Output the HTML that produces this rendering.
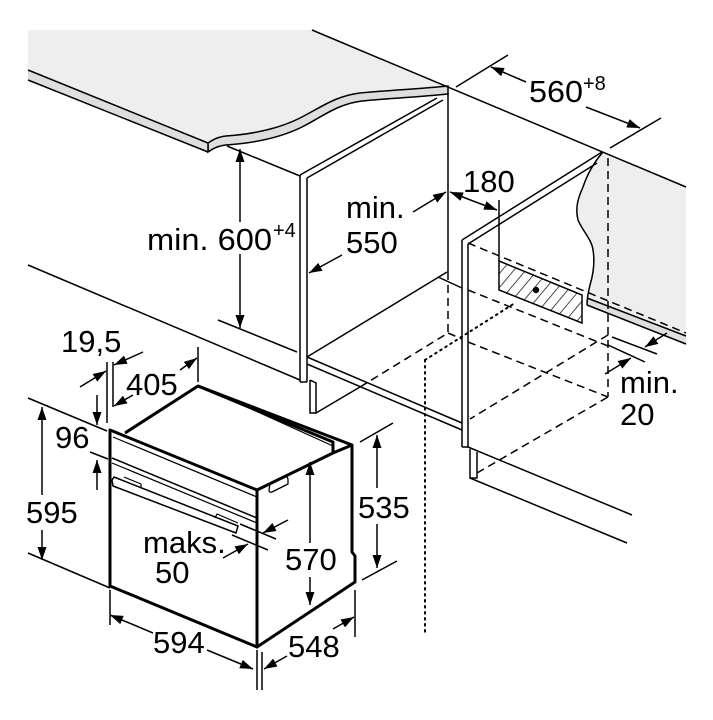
<!DOCTYPE html>
<html><head><meta charset="utf-8"><style>
html,body{margin:0;padding:0;background:#fff;}
svg{display:block;}
text{font-family:"Liberation Sans",Arial,sans-serif;fill:#000;}
</style></head><body>
<svg xmlns="http://www.w3.org/2000/svg" width="713" height="720" viewBox="0 0 713 720">
<defs>
<marker id="a" markerWidth="14" markerHeight="10" refX="13" refY="4.5" orient="auto" markerUnits="userSpaceOnUse"><path d="M0,0 L13,4.5 L0,9 z" fill="#000"/></marker>
<pattern id="h" width="9" height="9" patternUnits="userSpaceOnUse" patternTransform="rotate(40)"><rect width="9" height="9" fill="#fff"/><line x1="0" y1="0" x2="0" y2="9" stroke="#000" stroke-width="1.4"/></pattern>
</defs>

<!-- counter -->
<path d="M28,30 L312,30 L448,88 L448,86 C420,89 390,90 360,93 C335,96 320,108 300,118 C280,128 255,134 226,136 C218,137 214,139 208,143 L28,70 Z" fill="#eeeeee"/>
<path d="M208,143 C214,139 218,137 226,136 C255,134 280,128 300,118 C320,108 335,96 360,93 C390,90 420,89 448,86 L448,94 C420,97 392,98 362,101 C337,104 322,117 302,127 C282,137 255,143 226,145 C218,146 214,148 208,152 Z" fill="#dedede" stroke="#000" stroke-width="1.5"/>
<path d="M28,70 L208,143 L208,152 L28,80 Z" fill="#dedede"/>
<g stroke="#000" stroke-width="1.5" fill="none">
<line x1="28" y1="70" x2="208" y2="143"/>
<line x1="28" y1="80" x2="208" y2="152"/>
<line x1="208" y1="143" x2="208" y2="152"/>
</g>

<!-- wall gray right -->
<path d="M603,152 L686,187 L686,336 L587,298 C588,293 590,288 590,285 C593,275 595,262 593,250 C592,240 582,230 578,220 C575,208 578,198 583,187 C588,172 596,160 603,152 Z" fill="#eeeeee"/>
<path d="M587,298 L686,336 L686,344 L587,305 Z" fill="#dedede"/>

<g stroke="#000" stroke-width="1.5" fill="none">
<!-- back top line -->
<line x1="312" y1="30" x2="686" y2="187"/>
<!-- wavy cut -->
<path d="M603,152 C596,160 588,172 583,187 C578,198 575,208 578,220 C582,230 592,240 593,250 C595,262 593,275 590,285 C588,293 587,298 587,305"/>
<line x1="587" y1="298" x2="686" y2="336"/>
<line x1="587" y1="305" x2="686" y2="344"/>

<!-- left cabinet -->
<line x1="227" y1="146" x2="300" y2="176"/>
<line x1="300" y1="175" x2="300" y2="382"/>
<line x1="307" y1="178" x2="307" y2="382"/>
<line x1="300" y1="382" x2="307" y2="382"/>
<line x1="300" y1="175" x2="437" y2="98"/>
<line x1="307" y1="178" x2="443" y2="100"/>
<line x1="448" y1="93" x2="448" y2="272"/>
<line x1="307" y1="357" x2="447" y2="272"/>
<line x1="307" y1="357" x2="462" y2="423"/>
<line x1="307" y1="364" x2="462" y2="430"/>
<line x1="438" y1="277" x2="462" y2="288"/>
<!-- plinth left -->
<path d="M310,380 L310,413 L316,413 L316,383 L310,380"/>
<line x1="316" y1="413" x2="360" y2="387"/>
<!-- floor line -->
<line x1="28" y1="265" x2="300" y2="380"/>
<line x1="218" y1="320" x2="297" y2="352"/>

<!-- right cabinet -->
<line x1="462" y1="240" x2="462" y2="447"/>
<line x1="468" y1="244" x2="468" y2="447"/>
<line x1="462" y1="447" x2="468" y2="447"/>
<line x1="462" y1="240" x2="602" y2="152"/>
<line x1="468" y1="244" x2="597" y2="163"/>
<line x1="468" y1="447" x2="632" y2="515"/>
<path d="M470,449 L470,478 L477,478 L477,452"/>
<line x1="470" y1="478" x2="627" y2="543"/>
<line x1="499" y1="200" x2="499" y2="261"/>
</g>

<!-- dashed -->
<g stroke="#000" stroke-width="1.5" fill="none" stroke-dasharray="8 5">
<line x1="448" y1="272" x2="448" y2="333"/>
<line x1="360" y1="387" x2="448" y2="333"/>
<line x1="448" y1="333" x2="462" y2="339"/>
<line x1="468" y1="342" x2="608" y2="397"/>
<line x1="608" y1="158" x2="608" y2="397"/>
<line x1="477" y1="473" x2="608" y2="397"/>
<line x1="608" y1="335" x2="470" y2="419"/>
<line x1="468" y1="243" x2="686" y2="333"/>
<line x1="468" y1="290" x2="608" y2="346"/>
</g>

<!-- dotted -->
<g stroke="#000" stroke-width="2" fill="none" stroke-dasharray="1.6 4.4" stroke-linecap="round">
<line x1="425" y1="360" x2="425" y2="635"/>
<line x1="425" y1="360" x2="515" y2="303"/>
</g>

<!-- hatched box -->
<path d="M499,261 L582,295 L582,323 L499,290 Z" fill="url(#h)" stroke="#000" stroke-width="1.5"/>
<circle cx="536" cy="290" r="3.2" fill="#000"/>

<!-- min 20 -->
<g stroke="#000" stroke-width="1.5" fill="none">
<line x1="612" y1="337" x2="657" y2="354"/>
<line x1="608" y1="345" x2="645" y2="362"/>
<line x1="605" y1="374" x2="631" y2="358" marker-end="url(#a)"/>
<line x1="667" y1="333" x2="645" y2="347" marker-end="url(#a)"/>

<!-- 560 -->
<line x1="456" y1="87" x2="508" y2="55"/>
<line x1="610" y1="148" x2="661" y2="118"/>
<line x1="526" y1="82" x2="491" y2="67" marker-end="url(#a)"/>
<line x1="586" y1="107" x2="640" y2="128" marker-end="url(#a)"/>

<!-- 180 / 550 -->
<line x1="473" y1="201" x2="450" y2="192" marker-end="url(#a)"/>
<line x1="473" y1="201" x2="497" y2="210" marker-end="url(#a)"/>
<line x1="413" y1="212" x2="446" y2="192" marker-end="url(#a)"/>
<line x1="342" y1="255" x2="309" y2="273" marker-end="url(#a)"/>

<!-- 600 -->
<line x1="240" y1="222" x2="240" y2="149" marker-end="url(#a)"/>
<line x1="240" y1="254" x2="240" y2="328" marker-end="url(#a)"/>
</g>

<!-- oven -->
<g stroke="#000" fill="none" stroke-linejoin="round">
<path d="M110,430 L257,490 L257,647 L110,586 Z" fill="#fff" stroke-width="3"/>
<path d="M125,433 L198,386 L333,442 L333,453 L352,445 L352,552 L355,556 L355,582 L257,647 L257,490 L333,453" fill="#fff" stroke-width="3"/>
<line x1="198" y1="386" x2="352" y2="445" stroke-width="3"/>
<line x1="216" y1="393" x2="333" y2="446" stroke-width="1.2"/>
<line x1="113" y1="437" x2="257" y2="497" stroke-width="1.2"/>
<line x1="112" y1="458" x2="257" y2="518" stroke-width="1.5"/>
<line x1="112" y1="463" x2="257" y2="523" stroke-width="1.2"/>
<path d="M114,477 L238,526 L236,533 L113,486 L112,480 Z" fill="#fff" stroke-width="1.5"/>
<path d="M124,477 L141,484 L141,488" stroke-width="1.2"/>
<path d="M215,518 L217,514 L238,523" stroke-width="1.2"/>
<path d="M270,484 L285,477 Q288,476 288,480 L288,484 L272,492 Q269,493 269,490 Z" stroke-width="1.3"/>
</g>

<g stroke="#000" stroke-width="1.5" fill="none">
<!-- 595 -->
<line x1="28" y1="398" x2="107" y2="431"/>
<line x1="28" y1="553" x2="110" y2="588"/>
<line x1="42" y1="495" x2="42" y2="407" marker-end="url(#a)"/>
<line x1="42" y1="530" x2="42" y2="560" marker-end="url(#a)"/>
<!-- 96 -->
<line x1="90" y1="452" x2="108" y2="459"/>
<line x1="97" y1="395" x2="97" y2="425" marker-end="url(#a)"/>
<line x1="97" y1="490" x2="97" y2="460" marker-end="url(#a)"/>
<!-- 19,5 -->
<line x1="107" y1="362" x2="107" y2="423"/>
<line x1="113" y1="362" x2="113" y2="407"/>
<line x1="80" y1="387" x2="106" y2="371" marker-end="url(#a)"/>
<line x1="143" y1="352" x2="114" y2="365" marker-end="url(#a)"/>
<!-- 405 -->
<line x1="198" y1="347" x2="198" y2="382"/>
<line x1="133" y1="395" x2="114" y2="406" marker-end="url(#a)"/>
<line x1="180" y1="370" x2="197" y2="358" marker-end="url(#a)"/>
<!-- maks 50 -->
<line x1="240" y1="524" x2="276" y2="539"/>
<line x1="232" y1="535" x2="268" y2="550"/>
<line x1="288" y1="520" x2="263" y2="533" marker-end="url(#a)"/>
<line x1="223" y1="558" x2="248" y2="544" marker-end="url(#a)"/>
<!-- 570 -->
<line x1="310" y1="543" x2="310" y2="462" marker-end="url(#a)"/>
<line x1="310" y1="577" x2="310" y2="605" marker-end="url(#a)"/>
<!-- 535 -->
<line x1="360" y1="442" x2="393" y2="423"/>
<line x1="362" y1="580" x2="397" y2="561"/>
<line x1="377" y1="488" x2="377" y2="435" marker-end="url(#a)"/>
<line x1="377" y1="524" x2="377" y2="568" marker-end="url(#a)"/>
<!-- 594 -->
<line x1="110" y1="590" x2="110" y2="625"/>
<line x1="257" y1="650" x2="257" y2="690"/>
<line x1="153" y1="633" x2="110" y2="615" marker-end="url(#a)"/>
<line x1="207" y1="650" x2="253" y2="669" marker-end="url(#a)"/>
<!-- 548 -->
<line x1="262" y1="652" x2="262" y2="690"/>
<line x1="355" y1="590" x2="355" y2="637"/>
<line x1="287" y1="656" x2="264" y2="669" marker-end="url(#a)"/>
<line x1="333" y1="629" x2="354" y2="617" marker-end="url(#a)"/>
</g>

<!-- texts -->
<g font-size="31">
<text x="147" y="250" textLength="125" lengthAdjust="spacingAndGlyphs">min. 600</text>
<text x="273" y="237" font-size="20">+4</text>
<text x="346" y="218">min.</text>
<text x="346" y="253">550</text>
<text x="463" y="192">180</text>
<text x="529" y="102" textLength="54" lengthAdjust="spacingAndGlyphs">560</text>
<text x="583" y="90" font-size="20">+8</text>
<text x="620" y="393">min.</text>
<text x="620" y="425">20</text>
<text x="61" y="352">19,5</text>
<text x="126" y="395">405</text>
<text x="55" y="448">96</text>
<text x="26" y="523">595</text>
<text x="143" y="553">maks.</text>
<text x="155" y="583">50</text>
<text x="285" y="570">570</text>
<text x="358" y="518">535</text>
<text x="153" y="653">594</text>
<text x="288" y="657">548</text>
</g>
</svg>
</body></html>
